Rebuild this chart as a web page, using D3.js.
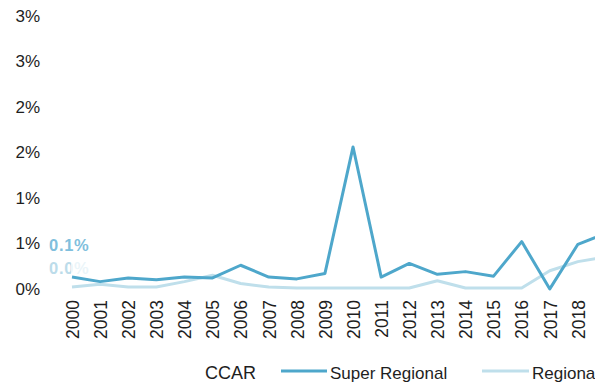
<!DOCTYPE html>
<html>
<head>
<meta charset="utf-8">
<script src="https://cdn.jsdelivr.net/npm/d3@7"></script>
<style>
  html, body { margin: 0; padding: 0; background: #fff; }
  svg { display: block; font-family: "Liberation Sans", Arial, sans-serif; }
</style>
</head>
<body>
<svg id="chart" width="616" height="385"></svg>
<script>
// Annual rates (percent) by bank group
const years = [2000, 2001, 2002, 2003, 2004, 2005, 2006, 2007, 2008, 2009,
               2010, 2011, 2012, 2013, 2014, 2015, 2016, 2017, 2018, 2019];
const superRegional = [0.12, 0.07, 0.11, 0.09, 0.12, 0.11, 0.25, 0.12, 0.10, 0.16,
                       1.55, 0.12, 0.27, 0.15, 0.18, 0.13, 0.51, -0.01, 0.48, 0.60];
const regional = [0.01, 0.04, 0.01, 0.01, 0.07, 0.14, 0.05, 0.01, 0.00, 0.00,
                  0.00, 0.00, 0.00, 0.08, 0.00, 0.00, 0.00, 0.19, 0.29, 0.34];
const yTicks = [0, 0.5, 1.0, 1.5, 2.0, 2.5, 3.0];
const yTickLabels = ["0%", "1%", "1%", "2%", "2%", "3%", "3%"];
const xTicks = years.slice(0, 19);
const xTickLabels = xTicks.map(String);
const legendItems = ["CCAR", "Super Regional", "Regional"];
const firstLabels = ["0.1%", "0.0%"];

const colors = { superRegional: "#4ea7cb", regional: "#bfdfeb", text: "#1e1e1e" };

const svg = d3.select("#chart");
svg.append("defs").append("clipPath").attr("id", "frame")
  .append("rect").attr("x", 0).attr("y", 0).attr("width", 595).attr("height", 385);

const root = svg.append("g").attr("clip-path", "url(#frame)");

const x = d3.scaleLinear().domain([2000, 2019]).range([72, 606]);
const y = d3.scaleLinear().domain([0, 3]).range([288, 15]);

// Y axis labels (no axis line or gridlines)
const yAxis = d3.axisLeft(y).tickValues(yTicks)
  .tickFormat((d, i) => yTickLabels[i]).tickSize(0).tickPadding(0);
const gy = root.append("g").attr("transform", "translate(40,0)").call(yAxis);
gy.select(".domain").remove();
gy.selectAll("text").attr("fill", colors.text).style("font-size", "17px")
  .attr("dy", "0.36em");

// X axis labels, rotated
const xAxis = d3.axisBottom(x).tickValues(xTicks)
  .tickFormat((d, i) => xTickLabels[i]).tickSize(0).tickPadding(0);
const gx = root.append("g").attr("transform", "translate(0,300)").call(xAxis);
gx.select(".domain").remove();
gx.selectAll("text")
  .attr("fill", colors.text).style("font-size", "17.5px")
  .attr("transform", "rotate(-90)")
  .attr("text-anchor", "end")
  .attr("x", 0).attr("y", 0).attr("dx", 0).attr("dy", "0.36em");

// Labels for the first values
root.append("text").attr("x", 49).attr("y", y(superRegional[0]) - 26.5)
  .attr("fill", "#80bfdd").style("font-size", "16.5px").style("font-weight", "bold")
  .style("letter-spacing", "0.7px")
  .text(firstLabels[0]);
root.append("text").attr("x", 49).attr("y", y(regional[0]) - 13)
  .attr("fill", "#bcdcea").style("font-size", "16.5px").style("font-weight", "bold")
  .style("letter-spacing", "0.7px")
  .text(firstLabels[1]);

// Plot background partly covering the lower label
root.append("rect").attr("x", 71).attr("y", 259).attr("width", 24).attr("height", 22)
  .attr("fill", "#fff").attr("opacity", 0.7);

// Series lines
const line = d3.line().x((d, i) => x(years[i])).y(d => y(d));

root.append("path").datum(regional)
  .attr("d", line).attr("fill", "none")
  .attr("stroke", colors.regional).attr("stroke-width", 3)
  .attr("stroke-linejoin", "round");

root.append("path").datum(superRegional)
  .attr("d", line).attr("fill", "none")
  .attr("stroke", colors.superRegional).attr("stroke-width", 3)
  .attr("stroke-linejoin", "round");

// Legend
const legend = root.append("g").attr("transform", "translate(0,379)")
  .style("font-size", "17px").attr("fill", colors.text);
legend.append("text").attr("x", 205).style("font-size", "18px").text(legendItems[0]);
legend.append("line").attr("x1", 281).attr("x2", 327).attr("y1", -8).attr("y2", -8)
  .attr("stroke", colors.superRegional).attr("stroke-width", 3);
legend.append("text").attr("x", 330).text(legendItems[1]);
legend.append("line").attr("x1", 482).attr("x2", 529).attr("y1", -8).attr("y2", -8)
  .attr("stroke", colors.regional).attr("stroke-width", 3);
legend.append("text").attr("x", 532).text(legendItems[2]);
</script>
</body>
</html>
